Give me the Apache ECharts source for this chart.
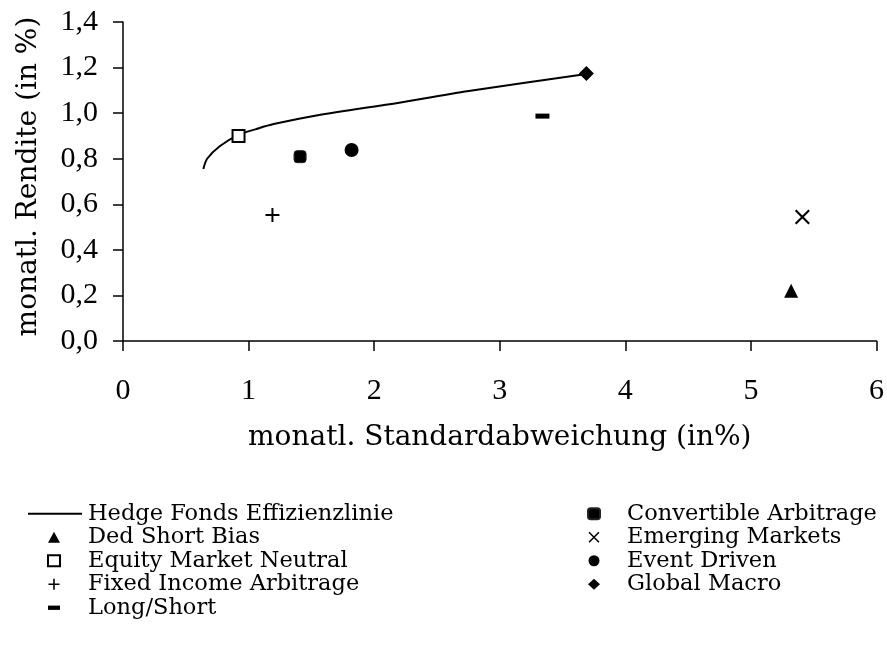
<!DOCTYPE html>
<html>
<head>
<meta charset="utf-8">
<script src="https://cdn.jsdelivr.net/npm/echarts@6/dist/echarts.min.js"></script>
<style>
html,body{margin:0;padding:0;background:#fff;}
#chart{width:887px;height:648px;}
</style>
</head>
<body>
<div id="chart"></div>
<script>
// ---- data (x = monatl. Standardabweichung, y = monatl. Rendite) ----
var xTicks = [0, 1, 2, 3, 4, 5, 6];
var yTicks = [0.0, 0.2, 0.4, 0.6, 0.8, 1.0, 1.2, 1.4];
var frontier = [[0.64,0.755],[0.67,0.80],[0.77,0.855],[0.92,0.905],[1.06,0.93],[1.2,0.952],[1.54,0.99],[2.2,1.046],[2.78,1.099],[3.69,1.172]];
var dedShortBias = [[5.32, 0.22]];
var equityMarketNeutral = [[0.92, 0.90]];
var fixedIncomeArbitrage = [[1.19, 0.553]];
var longShort = [[3.34, 0.987]];
var convertibleArbitrage = [[1.41, 0.809]];
var emergingMarkets = [[5.41, 0.544]];
var eventDriven = [[1.82, 0.838]];
var globalMacro = [[3.69, 1.174]];

var names = {
  frontier: 'Hedge Fonds Effizienzlinie',
  ded: 'Ded Short Bias',
  emn: 'Equity Market Neutral',
  fia: 'Fixed Income Arbitrage',
  ls: 'Long/Short',
  ca: 'Convertible Arbitrage',
  em: 'Emerging Markets',
  ed: 'Event Driven',
  gm: 'Global Macro'
};

var plusPath = 'path://M6,0 H8 V6 H14 V8 H8 V14 H6 V8 H0 V6 H6 Z';
var crossPath = 'path://M0,1.4 L1.4,0 L14,12.6 L12.6,14 Z M12.6,0 L14,1.4 L1.4,14 L0,12.6 Z';
var dashPath = 'path://M0,0 H14 V5 H0 Z';

var serif = '"DejaVu Serif", serif';
var numFont = '"Liberation Serif", serif';

function sc(name, data, symbol, size, style) {
  return {
    type: 'scatter', name: name, data: data,
    symbol: symbol, symbolSize: size, symbolKeepAspect: true,
    itemStyle: Object.assign({color: '#000', opacity: 1}, style || {}),
    emphasis: {disabled: true}, z: 3
  };
}

var legendText = {color: '#000', fontFamily: serif, fontSize: 22.5, lineHeight: 23.5};

var chart = echarts.init(document.getElementById('chart'), null, {renderer: 'canvas'});
chart.setOption({
  animation: false,
  backgroundColor: '#fff',
  grid: {left: 123, right: 10, top: 22, bottom: 307, containLabel: false},
  xAxis: {
    type: 'value', min: 0, max: 6, interval: 1,
    splitLine: {show: false},
    axisLine: {show: true, onZero: false, lineStyle: {color: '#000', width: 1.5}},
    axisTick: {show: true, length: 10, lineStyle: {color: '#000', width: 1.5}},
    axisLabel: {color: '#000', fontFamily: numFont, fontSize: 30, margin: 35,
      formatter: function (v) { return String(v); }},
    name: 'monatl. Standardabweichung (in%)',
    nameLocation: 'middle', nameGap: 83,
    nameTextStyle: {color: '#000', fontFamily: serif, fontSize: 28}
  },
  yAxis: {
    type: 'value', min: 0, max: 1.4, interval: 0.2,
    splitLine: {show: false},
    axisLine: {show: true, onZero: false, lineStyle: {color: '#000', width: 1.5}},
    axisTick: {show: true, length: 10, lineStyle: {color: '#000', width: 1.5}},
    axisLabel: {color: '#000', fontFamily: numFont, fontSize: 30, margin: 25,
      formatter: function (v) { return v.toFixed(1).replace('.', ','); }},
    name: 'monatl. Rendite (in %)',
    nameLocation: 'middle', nameGap: 80,
    nameTextStyle: {color: '#000', fontFamily: serif, fontSize: 28, padding: [0, 0, 0, 10]}
  },
  legend: [
    {
      orient: 'vertical', left: 23, top: 497,
      itemWidth: 54, itemHeight: 2, itemGap: 0,
      textStyle: Object.assign({padding: [0, 0, 0, 1]}, legendText),
      selectedMode: false,
      data: [{name: names.frontier, icon: 'rect', itemStyle: {color: '#000', opacity: 1}}]
    },
    {
      orient: 'vertical', left: 42, top: 520.5,
      itemWidth: 12, itemHeight: 11, itemGap: 0,
      textStyle: Object.assign({padding: [0, 0, 0, 23]}, legendText),
      selectedMode: false,
      data: [names.ded, names.emn, names.fia, names.ls]
    },
    {
      orient: 'vertical', left: 582, top: 497,
      itemWidth: 12, itemHeight: 11, itemGap: 0,
      textStyle: Object.assign({padding: [0, 0, 0, 22]}, legendText),
      selectedMode: false,
      data: [names.ca, names.em, names.ed, names.gm]
    }
  ],
  series: [
    {
      type: 'line', name: names.frontier, data: frontier,
      symbol: 'none', smooth: 0.3,
      lineStyle: {color: '#000', width: 2},
      itemStyle: {color: '#000'},
      emphasis: {disabled: true}, z: 2
    },
    sc(names.ded, dedShortBias, 'triangle', 14),
    sc(names.emn, equityMarketNeutral, 'rect', 12, {color: '#fff', borderColor: '#000', borderWidth: 2}),
    sc(names.fia, fixedIncomeArbitrage, plusPath, 14),
    sc(names.ls, longShort, dashPath, 14),
    sc(names.ca, convertibleArbitrage, 'roundRect', 12, {color: '#000', borderColor: '#222', borderWidth: 1}),
    sc(names.em, emergingMarkets, crossPath, 15),
    sc(names.ed, eventDriven, 'circle', 14),
    sc(names.gm, globalMacro, 'diamond', 15)
  ]
});
</script>
</body>
</html>
